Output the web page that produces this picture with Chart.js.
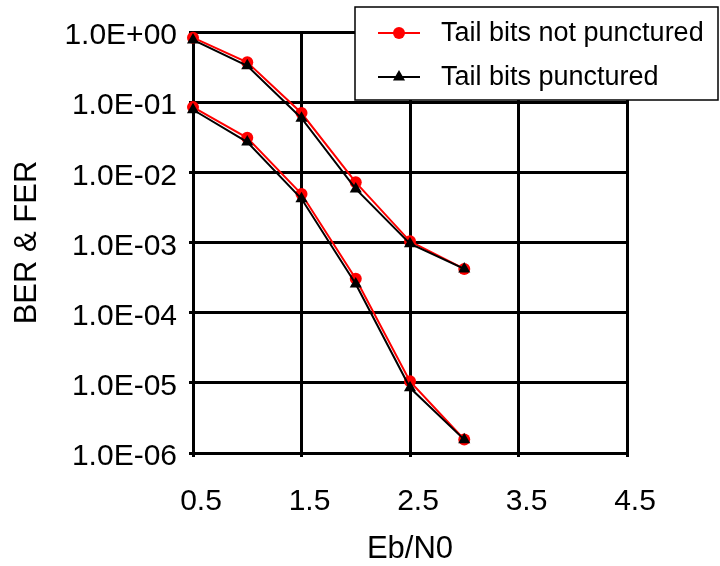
<!DOCTYPE html>
<html>
<head>
<meta charset="utf-8">
<script src="https://cdn.jsdelivr.net/npm/chart.js@4"></script>
<style>
  body { margin: 0; background: #fff; }
</style>
</head>
<body>
<canvas id="chart" width="720" height="566"></canvas>
<script>
// Eb/N0 values and error rates
const ebN0 = [0.5, 1.0, 1.5, 2.0, 2.5, 3.0];
const ferNotPunctured = [0.83, 0.37, 0.07, 0.0072, 1.04e-3, 4.2e-4];
const ferPunctured = [0.77, 0.33, 0.059, 0.0058, 9.6e-4, 4.2e-4];
const berNotPunctured = [0.085, 0.031, 0.0049, 3.05e-4, 1.05e-5, 1.56e-6];
const berPunctured = [0.078, 0.027, 0.0042, 2.56e-4, 8.5e-6, 1.55e-6];

const xTicks = [0.5, 1.5, 2.5, 3.5, 4.5];
const yTicks = [1e-6, 1e-5, 1e-4, 1e-3, 1e-2, 1e-1, 1];
const yTickLabels = ['1.0E-06', '1.0E-05', '1.0E-04', '1.0E-03', '1.0E-02', '1.0E-01', '1.0E+00'];

const legendLabels = ['Tail bits not punctured', 'Tail bits punctured'];

const font = 'Liberation Sans, Arial, sans-serif';

function pts(ys) {
  return ys.map((y, i) => ({ x: ebN0[i], y: y }));
}

const redStyle = {
  borderColor: '#ff0000', backgroundColor: '#ff0000', borderWidth: 2,
  pointStyle: 'circle', pointRadius: 6, pointBorderWidth: 0, clip: false
};
const blackStyle = {
  borderColor: '#000000', backgroundColor: '#000000', borderWidth: 2,
  pointStyle: 'triangle', pointRadius: 7, pointBorderWidth: 0, clip: false
};

// simple boxed legend drawn on top of the plot
const boxLegend = {
  id: 'boxLegend',
  afterDraw(chart) {
    const ctx = chart.ctx;
    ctx.save();
    ctx.fillStyle = '#fff';
    ctx.fillRect(355, 7, 363, 93);
    ctx.strokeStyle = '#000';
    ctx.lineWidth = 1.5;
    ctx.strokeRect(355, 7, 363, 93);
    const rows = [33, 77];
    const styles = [redStyle, blackStyle];
    rows.forEach((y, i) => {
      const s = styles[i];
      ctx.strokeStyle = s.borderColor;
      ctx.lineWidth = 2;
      ctx.beginPath();
      ctx.moveTo(378, y);
      ctx.lineTo(420, y);
      ctx.stroke();
      ctx.fillStyle = s.backgroundColor;
      Chart.helpers.drawPoint(ctx, { pointStyle: s.pointStyle, radius: s.pointRadius, borderWidth: 0 }, 399, y);
      ctx.fillStyle = '#000';
      ctx.font = '27px ' + font;
      ctx.textBaseline = 'middle';
      ctx.fillText(legendLabels[i], 441, y + 1);
    });
    ctx.restore();
  }
};

new Chart(document.getElementById('chart'), {
  type: 'line',
  data: {
    datasets: [
      Object.assign({ label: legendLabels[1], data: pts(ferPunctured) }, blackStyle),
      Object.assign({ label: legendLabels[1], data: pts(berPunctured) }, blackStyle),
      Object.assign({ label: legendLabels[0], data: pts(ferNotPunctured) }, redStyle),
      Object.assign({ label: legendLabels[0], data: pts(berNotPunctured) }, redStyle)
    ]
  },
  options: {
    responsive: false,
    animation: false,
    layout: { padding: { top: 32, right: 93, left: 0, bottom: 0 } },
    plugins: {
      legend: { display: false },
      tooltip: { enabled: false }
    },
    scales: {
      x: {
        type: 'linear',
        min: 0.5,
        max: 4.5,
        afterBuildTicks: (s) => { s.ticks = xTicks.map(v => ({ value: v })); },
        afterFit: (s) => { s.height = 113; },
        grid: { color: '#000', lineWidth: 3, tickLength: 4 },
        border: { color: '#000', width: 2 },
        ticks: {
          color: '#000', font: { family: font, size: 30 }, padding: 27, labelOffset: 8,
          maxRotation: 0, callback: (v) => v.toFixed(1)
        },
        title: {
          display: true, text: 'Eb/N0', color: '#000',
          font: { family: font, size: 31, lineHeight: 1 }, padding: { top: 0, bottom: 1 }
        }
      },
      y: {
        type: 'logarithmic',
        min: 1e-6,
        max: 1,
        afterBuildTicks: (s) => { s.ticks = yTicks.map(v => ({ value: v })); },
        afterFit: (s) => { s.width = 193; },
        grid: { color: '#000', lineWidth: 3, tickLength: 4 },
        border: { color: '#000', width: 2 },
        ticks: {
          color: '#000', font: { family: font, size: 30 }, padding: 12, labelOffset: 4,
          callback: (v, i) => yTickLabels[i]
        },
        title: {
          display: true, text: 'BER & FER', color: '#000',
          font: { family: font, size: 31, lineHeight: 1 }, padding: { top: 12, bottom: 0 }
        }
      }
    }
  },
  plugins: [boxLegend]
});
</script>
</body>
</html>
